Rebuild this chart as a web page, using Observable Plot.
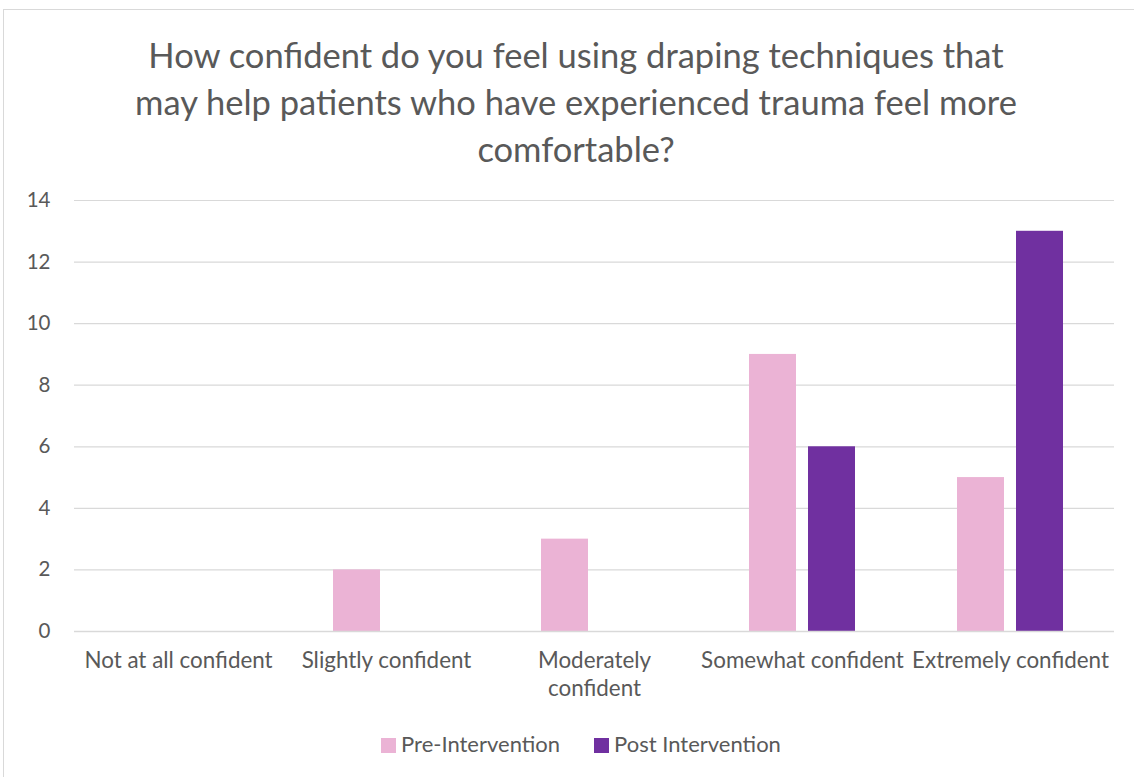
<!DOCTYPE html>
<html><head><meta charset="utf-8">
<script src="https://cdn.jsdelivr.net/npm/d3@7"></script>
<script src="https://cdn.jsdelivr.net/npm/@observablehq/plot@0.6"></script>
<style>
body{margin:0;background:#fff;}
#frame{position:relative;width:1134px;height:777px;overflow:hidden;font-family:Lato,"Open Sans",sans-serif;background:#fff;}
#border{position:absolute;left:3px;top:9px;width:1160px;height:800px;border:1px solid #d9d9d9;box-sizing:border-box;}
#title{position:absolute;left:0;top:31px;width:1152px;text-align:center;color:#595959;font-size:34.5px;line-height:47px;}
#chart{position:absolute;left:0;top:180px;}
#legend{position:absolute;left:0;top:730px;width:1162px;text-align:center;color:#595959;font-size:22px;line-height:28px;}
#legend span.item{display:inline-block;margin:0 17px;}
#legend span.sw{display:inline-block;width:15px;height:15px;margin-right:5px;vertical-align:-1px;}
</style></head>
<body>
<div id="frame">
  <div id="border"></div>
  <div id="title">How confident do you feel using draping techniques that<br>may help patients who have experienced trauma feel more<br>comfortable?</div>
  <div id="chart"></div>
  <div id="legend"></div>
</div>
<script>
const categories = ["Not at all confident", "Slightly confident", "Moderately confident", "Somewhat confident", "Extremely confident"];
const categoryLabels = ["Not at all confident", "Slightly confident", "Moderately\nconfident", "Somewhat confident", "Extremely confident"];
const series = ["Pre-Intervention", "Post Intervention"];
const preValues = [0, 2, 3, 9, 5];
const postValues = [0, 0, 0, 6, 13];
const seriesColors = ["#ebb3d5", "#7030a0"];
const yTicks = [0, 2, 4, 6, 8, 10, 12, 14];

const data = [];
categories.forEach((c, i) => {
  data.push({category: c, series: series[0], value: preValues[i]});
  data.push({category: c, series: series[1], value: postValues[i]});
});

const chart = Plot.plot({
  width: 1134,
  height: 540,
  marginTop: 20,
  marginBottom: 89,
  marginLeft: 72,
  marginRight: 18,
  style: {fontFamily: "Lato, 'Open Sans', sans-serif", color: "#595959", background: "transparent"},
  fx: {domain: categories, padding: 0, label: null},
  x: {domain: series, axis: null, paddingInner: 0.2, paddingOuter: 0.85},
  y: {domain: [0, 14], label: null},
  color: {domain: series, range: seriesColors},
  marks: [
    Plot.gridY(yTicks, {stroke: "#d9d9d9", strokeOpacity: 1, strokeWidth: 1.2}),
    Plot.axisY(yTicks, {tickSize: 0, tickPadding: 24, fontSize: 20.5, label: null, fill: "#595959"}),
    Plot.axisFx({anchor: "bottom", tickSize: 0, tickPadding: 17, fontSize: 22.4, label: null, lineHeight: 1.25, fill: "#595959",
      tickFormat: d => categoryLabels[categories.indexOf(d)]}),
    Plot.barY(data, {fx: "category", x: "series", y: "value", fill: "series"}),
    Plot.ruleY([0], {stroke: "#d9d9d9", strokeWidth: 1.5})
  ]
});
document.getElementById("chart").appendChild(chart);

const legend = document.getElementById("legend");
series.forEach((s, i) => {
  const item = document.createElement("span");
  item.className = "item";
  const sw = document.createElement("span");
  sw.className = "sw";
  sw.style.background = seriesColors[i];
  item.appendChild(sw);
  item.appendChild(document.createTextNode(s));
  legend.appendChild(item);
});
</script>
</body></html>
